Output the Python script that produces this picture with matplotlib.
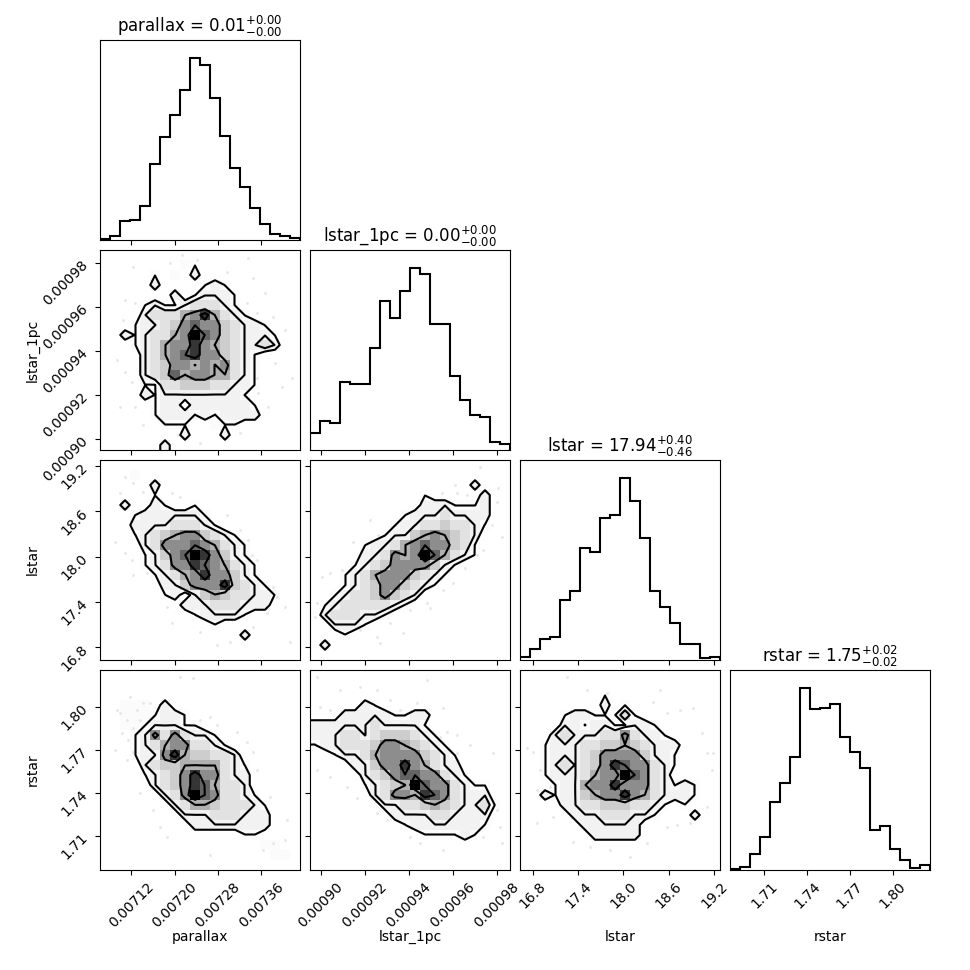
import numpy as np
import matplotlib
matplotlib.use("Agg")
import matplotlib.pyplot as plt
from matplotlib.colors import LinearSegmentedColormap
from matplotlib.ticker import MaxNLocator, NullLocator, ScalarFormatter

# ---------------- data ----------------
labels = ["parallax", "lstar_1pc", "lstar", "rstar"]
titles = [r"parallax = $0.01_{-0.00}^{+0.00}$",
          r"lstar_1pc = $0.00_{-0.00}^{+0.00}$",
          r"lstar = $17.94_{-0.46}^{+0.40}$",
          r"rstar = $1.75_{-0.02}^{+0.02}$"]
ranges = [(0.0070622, 0.0074317),
          (0.00089514, 0.00098605),
          (16.632, 19.279),
          (1.68596, 1.8262)]

hist_parallax = [3, 13, 56, 60, 103, 226, 308, 373, 448, 543, 523, 423, 310, 216, 158, 96, 48, 18, 13, 6]
hist_lstar_1pc = [52, 87, 82, 203, 198, 198, 305, 447, 395, 477, 545, 528, 377, 377, 223, 150, 105, 100, 25, 18]
hist_lstar = [8, 32, 62, 70, 180, 207, 335, 323, 425, 435, 545, 477, 365, 207, 158, 112, 47, 47, 5, 8]
hist_rstar = [4, 8, 48, 98, 203, 260, 340, 545, 482, 487, 498, 398, 355, 305, 120, 133, 62, 30, 5, 15]
hists = [hist_parallax, hist_lstar_1pc, hist_lstar, hist_rstar]

# 2D density grids (rows listed top -> bottom, columns left -> right)
grid_lstar_1pc_vs_parallax = [
    "00000000000000000000",
    "00000000110000000000",
    "00000101020000000000",
    "00000200001210000000",
    "00000002012221000000",
    "00001211233321000000",
    "00002333568532100000",
    "00012234676643221000",
    "00212335697643222100",
    "00012356686543223200",
    "00002356786643210000",
    "00002346656563210000",
    "00002347566553210000",
    "00001133444332210000",
    "00002122222222100000",
    "00000122022222210000",
    "00000122212122220000",
    "00000011100111000000",
    "00000000200020000000",
    "00000020000000000000",
]
grid_lstar_vs_parallax = [
    "00000000000000000000",
    "00010000000000000000",
    "00000200000000000000",
    "00000100000000000000",
    "00200210010000000000",
    "00012222221000000000",
    "00022223332100000000",
    "00012345664321000000",
    "00002366676532100000",
    "00001246798642100000",
    "00001236687653210000",
    "00000123568664210000",
    "00000022466684321000",
    "00000012024543322100",
    "00000000222333222000",
    "00000000012222100000",
    "00000000000100000000",
    "00000000000000200000",
    "00000000000000000000",
    "00000000000000000000",
]
grid_lstar_vs_lstar_1pc = [
    "00000000000000000000",
    "00000000000000000000",
    "00000000000000002000",
    "00000000000100000200",
    "00000000000222111200",
    "00000000012223222200",
    "00000000122334332100",
    "00000001224565432000",
    "00000122356766431000",
    "00000223656975321000",
    "00001234666642100000",
    "00012356664321000000",
    "00012346643210000000",
    "00123346432000000000",
    "01233333210000000000",
    "02333221000000000000",
    "00222100000000000000",
    "00010000000000000000",
    "02000000000000000000",
    "00000000000000000000",
]
grid_rstar_vs_parallax = [
    "00000000000000000000",
    "00000000000000000000",
    "00000000000000000000",
    "00111020000000000000",
    "00111122100000000000",
    "00111222110000000000",
    "00012636322100000000",
    "00012356633210000000",
    "00012268544332000000",
    "00002344555532100000",
    "00001234686632200000",
    "00000234687533200000",
    "00000023697633210000",
    "00000002355433321000",
    "00000000222333222000",
    "00000000022222222000",
    "00000000000000110000",
    "00000000000000001100",
    "00000000000000000110",
    "00000000000000000000",
]
grid_rstar_vs_lstar_1pc = [
    "00000000000000000000",
    "00000000000000000000",
    "00000000000000000000",
    "00000210000000000000",
    "00022222112200000000",
    "22222232222100000000",
    "22233234443210000000",
    "12233346654321000000",
    "00122356666432100000",
    "00002246686532200000",
    "00000234677663210000",
    "00000123459766321100",
    "00000023665876322200",
    "00000002233454322310",
    "00000000222233222200",
    "00000000012222222100",
    "00000000000111121000",
    "00000000000000000000",
    "00000000000000000000",
    "00000000000000000000",
]
grid_rstar_vs_lstar = [
    "00000000000000000000",
    "00000000000000000000",
    "00000000100000000000",
    "00000000201000000000",
    "00001221113100000000",
    "00002212211221000000",
    "00023222336322100000",
    "00122233445432220000",
    "00122234666642210000",
    "00123234687663210000",
    "00122235669763200000",
    "00012256686663212100",
    "00212245668653222100",
    "00002233444332101000",
    "00000222333221000200",
    "00000022222200000000",
    "00000002222200000000",
    "00000000000000000000",
    "00000000000000000000",
    "00000000000000000000",
]
grids = {(1, 0): grid_lstar_1pc_vs_parallax,
         (2, 0): grid_lstar_vs_parallax,
         (2, 1): grid_lstar_vs_lstar_1pc,
         (3, 0): grid_rstar_vs_parallax,
         (3, 1): grid_rstar_vs_lstar_1pc,
         (3, 2): grid_rstar_vs_lstar}

# sparse outlying samples visible outside the contours
pts_parallax_A = [0.0072131, 0.0072408, 0.0071915, 0.0072962, 0.0073362, 0.0071238, 0.0073455, 0.007367,
                  0.0073824, 0.007404, 0.0071084, 0.0071269, 0.0071053, 0.007093, 0.0071084, 0.0071207,
                  0.0070991, 0.0071269, 0.0071423, 0.0072069, 0.0072469, 0.0073208, 0.0073732, 0.0073978,
                  0.0074163, 0.0073855, 0.0073516, 0.0073547, 0.0073332, 0.0073516]
pts_lstar_1pc_A = [0.00098378, 0.0009815, 0.00098, 0.0009762, 0.00098226, 0.0009785, 0.00097317, 0.0009664,
                   0.00095575, 0.00094969, 0.00096333, 0.00096181, 0.00095424, 0.00093606, 0.00093075, 0.00092621,
                   0.00091485, 0.00091485, 0.00090651, 0.00090197, 0.00089818, 0.00090273, 0.00091485, 0.00092394,
                   0.00092772, 0.00093454, 0.00092772, 0.00092091, 0.00096181, 0.00095727]

pts_parallax_B = [0.0071084, 0.0071238, 0.0071423, 0.0071946, 0.00721, 0.0070991, 0.0070899, 0.0071207,
                  0.0071238, 0.0071484, 0.0071084, 0.0072962, 0.0073208, 0.0073362, 0.0073516, 0.0073424,
                  0.0073824, 0.0073886, 0.007404, 0.0074132, 0.0071854, 0.0071946, 0.0072469, 0.0072777,
                  0.0073024, 0.0073701, 0.0073455]
pts_lstar_B = [19.058, 18.970, 18.860, 18.838, 18.794, 18.838, 18.198, 17.955, 17.757, 17.779, 18.044,
               18.551, 18.352, 18.220, 17.955, 18.022, 17.602, 17.470, 17.338, 16.874, 17.338, 17.117,
               17.007, 16.830, 16.874, 17.249, 17.073]

pts_lstar_1pc_C = [0.00097241, 0.00098074, 0.00097998, 0.00097771, 0.00098225, 0.00097241, 0.00096635,
                   0.00096104, 0.0009618, 0.00095498, 0.00092241, 0.0009262, 0.00091484, 0.00090044,
                   0.00090423, 0.00090953, 0.00089817, 0.00089741, 0.00091635, 0.00091787, 0.00092544,
                   0.0009315, 0.00093756, 0.00092696, 0.00094059, 0.00094817, 0.00094968, 0.00095574,
                   0.00096029, 0.0009656, 0.0009709, 0.00097394]
pts_lstar_C = [19.191, 18.904, 18.727, 18.419, 18.264, 18.330, 18.816, 18.948, 18.838, 18.838, 18.485,
               18.286, 18.198, 17.735, 17.779, 17.823, 17.382, 17.205, 17.205, 17.029, 16.941, 17.117,
               16.985, 16.852, 17.294, 17.382, 17.316, 17.558, 17.647, 17.845, 18.022, 18.088]

pts_parallax_D = [0.0071176, 0.0071423, 0.0071546, 0.00713, 0.0070991, 0.0071115, 0.007093, 0.0071361,
                  0.0071238, 0.0071022, 0.0071145, 0.0070899, 0.0071238, 0.0071115, 0.00721, 0.0072346,
                  0.0072469, 0.0072654, 0.0072777, 0.0073147, 0.0073332, 0.0073455, 0.0073516, 0.0073763,
                  0.007407, 0.007404, 0.0073824, 0.0073639, 0.0072654, 0.0071854, 0.007173, 0.0071607,
                  0.0071361]
pts_rstar_D = [1.8075, 1.8028, 1.8028, 1.7982, 1.7958, 1.7911, 1.7982, 1.7911, 1.7853, 1.7818, 1.7771,
               1.7701, 1.7689, 1.7631, 1.8215, 1.8204, 1.7911, 1.7935, 1.7876, 1.783, 1.776, 1.7689,
               1.7561, 1.7374, 1.721, 1.707, 1.7047, 1.700, 1.6965, 1.7093, 1.7164, 1.728, 1.7397]

pts_lstar_1pc_E = [0.00089817, 0.00090878, 0.00091787, 0.00092544, 0.0009315, 0.00089969, 0.00090423,
                   0.00093605, 0.00094362, 0.00095574, 0.00095423, 0.00095726, 0.0009618, 0.00096786,
                   0.00097847, 0.00089817, 0.00090423, 0.00091181, 0.00091635, 0.00092544, 0.00092999,
                   0.00094059, 0.00094514, 0.00095574, 0.00097998, 0.0009815, 0.00098225, 0.00097394,
                   0.00094817, 0.0009618]
pts_rstar_E = [1.8215, 1.8122, 1.8145, 1.8122, 1.8052, 1.8005, 1.7982, 1.7982, 1.8028, 1.7993, 1.7795,
               1.783, 1.7806, 1.7736, 1.7678, 1.7561, 1.7514, 1.7444, 1.7362, 1.7257, 1.721, 1.7093,
               1.7047, 1.700, 1.728, 1.7164, 1.7047, 1.7093, 1.8192, 1.7678]

pts_lstar_F = [17.250, 17.514, 17.779, 18.397, 18.573, 18.750, 18.926, 19.037, 19.103, 19.191, 16.720,
               16.808, 16.897, 16.853, 17.029, 17.073, 16.853, 17.338, 17.559, 17.823, 18.088, 18.309,
               18.573, 18.706, 18.882, 19.103, 19.169, 18.485]
pts_rstar_F = [1.8215, 1.8122, 1.8098, 1.804, 1.7958, 1.7982, 1.7993, 1.7818, 1.7678, 1.7678, 1.7713,
               1.7689, 1.7561, 1.742, 1.7444, 1.7234, 1.7187, 1.7058, 1.7023, 1.700, 1.6953, 1.7047,
               1.7164, 1.7175, 1.7187, 1.7304, 1.7561, 1.8122]

points = {(1, 0): (pts_parallax_A, pts_lstar_1pc_A),
          (2, 0): (pts_parallax_B, pts_lstar_B),
          (2, 1): (pts_lstar_1pc_C, pts_lstar_C),
          (3, 0): (pts_parallax_D, pts_rstar_D),
          (3, 1): (pts_lstar_1pc_E, pts_rstar_E),
          (3, 2): (pts_lstar_F, pts_rstar_F)}

contour_levels = [1.05, 2.05, 5.05, 7.05]

# ---------------- layout (corner defaults) ----------------
K = 4
factor = 2.0
lbdim = 0.5 * factor
trdim = 0.2 * factor
whspace = 0.05
plotdim = factor * K + factor * (K - 1.0) * whspace
dim = lbdim + plotdim + trdim

fig, axes = plt.subplots(K, K, figsize=(dim, dim))
lb = lbdim / dim
tr = (lbdim + plotdim) / dim
fig.subplots_adjust(left=lb, bottom=lb, right=tr, top=tr, wspace=whspace, hspace=whspace)

density_cmap = LinearSegmentedColormap.from_list("density_cmap", ["k", (1, 1, 1, 0)])
white_cmap = LinearSegmentedColormap.from_list("white_cmap", [(1, 1, 1), (1, 1, 1)], N=2)


def draw2d(ax, rows, xr, yr, pts):
    H = np.array([[float(c) for c in r] for r in rows[::-1]])
    ny, nx = H.shape
    X = np.linspace(xr[0], xr[1], nx + 1)
    Y = np.linspace(yr[0], yr[1], ny + 1)
    X1 = 0.5 * (X[1:] + X[:-1])
    Y1 = 0.5 * (Y[1:] + Y[:-1])
    H2 = H.min() + np.zeros((ny + 4, nx + 4))
    H2[2:-2, 2:-2] = H
    H2[2:-2, 1] = H[:, 0]
    H2[2:-2, -2] = H[:, -1]
    H2[1, 2:-2] = H[0]
    H2[-2, 2:-2] = H[-1]
    H2[1, 1] = H[0, 0]
    H2[1, -2] = H[0, -1]
    H2[-2, 1] = H[-1, 0]
    H2[-2, -2] = H[-1, -1]
    X2 = np.concatenate([X1[0] + np.array([-2, -1]) * np.diff(X1[:2]), X1,
                         X1[-1] + np.array([1, 2]) * np.diff(X1[-2:])])
    Y2 = np.concatenate([Y1[0] + np.array([-2, -1]) * np.diff(Y1[:2]), Y1,
                         Y1[-1] + np.array([1, 2]) * np.diff(Y1[-2:])])
    ax.plot(pts[0], pts[1], "o", color="k", ms=2.0, mec="none", alpha=0.1, zorder=-1)
    ax.contourf(X2, Y2, H2, [contour_levels[0], H.max()], cmap=white_cmap, antialiased=False)
    ax.pcolormesh(X, Y, H.max() - H, cmap=density_cmap,
                  vmin=0, vmax=H.max() - H.min(), shading="flat")
    ax.contour(X2, Y2, H2, contour_levels, colors="k", linewidths=1.5)
    ax.set_xlim(xr)
    ax.set_ylim(yr)


for i in range(K):
    for j in range(K):
        ax = axes[i, j]
        if j > i:
            ax.set_frame_on(False)
            ax.set_xticks([])
            ax.set_yticks([])
            continue
        if i == j:
            edges = np.linspace(ranges[i][0], ranges[i][1], len(hists[i]) + 1)
            centers = 0.5 * (edges[1:] + edges[:-1])
            n, _, _ = ax.hist(centers, bins=edges, weights=hists[i],
                              histtype="step", color="k", linewidth=1.5)
            ax.set_xlim(ranges[i])
            ax.set_ylim(0, 1.1 * np.max(n))
            ax.set_title(titles[i])
            ax.yaxis.set_major_locator(NullLocator())
        else:
            draw2d(ax, grids[(i, j)], ranges[j], ranges[i], points[(i, j)])
            ax.yaxis.set_major_locator(MaxNLocator(5, prune="lower"))
            if j == 0:
                ax.yaxis.set_major_formatter(ScalarFormatter(useMathText=False))
                for l in ax.get_yticklabels():
                    l.set_rotation(45)
                ax.set_ylabel(labels[i])
                ax.yaxis.set_label_coords(-0.3, 0.5)
            else:
                ax.set_yticklabels([])
        ax.xaxis.set_major_locator(MaxNLocator(5, prune="lower"))
        if i == K - 1:
            ax.xaxis.set_major_formatter(ScalarFormatter(useMathText=False))
            for l in ax.get_xticklabels():
                l.set_rotation(45)
            ax.set_xlabel(labels[j])
            ax.xaxis.set_label_coords(0.5, -0.3)
        else:
            ax.set_xticklabels([])

fig.savefig("out.png", dpi=100)
